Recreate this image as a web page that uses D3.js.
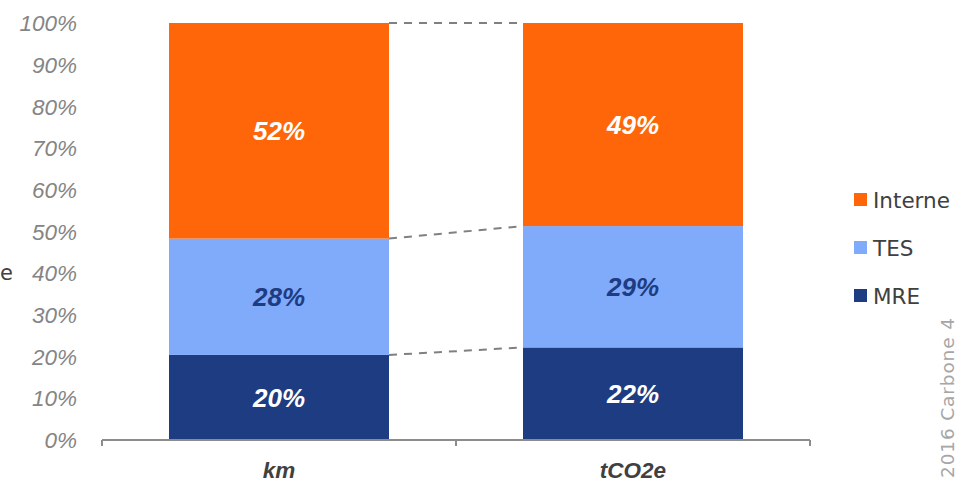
<!DOCTYPE html>
<html><head><meta charset="utf-8">
<script src="https://cdn.jsdelivr.net/npm/d3@7"></script>
<style>body{margin:0;background:#fff}svg{display:block}</style>
</head><body>
<svg id="c" width="957" height="482"></svg>
<script>
const categories = ["km", "tCO2e"];
const seriesNames = ["MRE", "TES", "Interne"];
const MRE = [20.4, 22.2];
const TES = [27.9, 29.1];
const Interne = [51.7, 48.7];
const yTicks = [0,10,20,30,40,50,60,70,80,90,100];
const legendItems = ["Interne","TES","MRE"];
const colors = {MRE:"#1D3C82", TES:"#80AAFA", Interne:"#FF6609"};
const labelColors = {MRE:"#ffffff", TES:"#1D3C82", Interne:"#ffffff"};

const svg = d3.select("#c");
const x = d3.scaleBand().domain(categories).range([102, 810]).paddingInner(0).paddingOuter(0);
const y = d3.scaleLinear().domain([0,100]).range([440, 23]);
const barW = 220;

const data = categories.map((c,i)=>({cat:c, MRE:MRE[i], TES:TES[i], Interne:Interne[i]}));
const stack = d3.stack().keys(seriesNames)(data);

// connectors
const g = svg.append("g");
stack.forEach(layer=>{
  const a = layer[0], b = layer[1];
  g.append("line")
    .attr("x1", x(categories[0]) + x.bandwidth()/2 + barW/2)
    .attr("x2", x(categories[1]) + x.bandwidth()/2 - barW/2)
    .attr("y1", y(a[1])).attr("y2", y(b[1]))
    .attr("stroke","#808080").attr("stroke-width",2).attr("stroke-dasharray","8,7");
});

// bars
stack.forEach(layer=>{
  const key = layer.key;
  svg.append("g").selectAll("rect").data(layer).join("rect")
    .attr("x", d=> x(d.data.cat) + x.bandwidth()/2 - barW/2)
    .attr("width", barW)
    .attr("y", d=> y(d[1]))
    .attr("height", d=> y(d[0]) - y(d[1]))
    .attr("fill", colors[key]);
  svg.append("g").selectAll("text").data(layer).join("text")
    .attr("x", d=> x(d.data.cat) + x.bandwidth()/2)
    .attr("y", d=> (y(d[0]) + y(d[1]))/2)
    .attr("dy","0.36em")
    .attr("text-anchor","middle")
    .attr("font-family","Liberation Sans, Arial, sans-serif")
    .attr("font-weight","bold").attr("font-style","italic")
    .attr("font-size",26)
    .attr("fill", labelColors[key])
    .text(d=> Math.round(d[1]-d[0]) + "%");
});

// axis line and ticks
const ax = svg.append("g").attr("stroke","#8c8c8c").attr("stroke-width",2);
ax.append("line").attr("x1",102).attr("x2",810).attr("y1",440).attr("y2",440);
const bounds = [x(categories[0]), x(categories[1]), x(categories[1]) + x.bandwidth()];
bounds.forEach(b=> ax.append("line").attr("x1",b).attr("x2",b).attr("y1",440).attr("y2",446));

// y tick labels
svg.append("g").selectAll("text").data(yTicks).join("text")
  .attr("x",77).attr("y",d=>y(d)).attr("dy","0.36em")
  .attr("text-anchor","end")
  .attr("font-family","Liberation Sans, Arial, sans-serif")
  .attr("font-style","italic").attr("font-size",22.5).attr("fill","#858585")
  .text(d=> d + "%");

// category labels
svg.append("g").selectAll("text").data(categories).join("text")
  .attr("x",d=> x(d)+x.bandwidth()/2).attr("y",470).attr("dy","0.36em")
  .attr("text-anchor","middle")
  .attr("font-family","Liberation Sans, Arial, sans-serif")
  .attr("font-weight","bold").attr("font-style","italic").attr("font-size",22.5).attr("fill","#404040")
  .text(d=>d);

// cut y-axis title
svg.append("text").attr("x",13).attr("y",272).attr("dy","0.36em").attr("text-anchor","end")
  .attr("font-family","DejaVu Sans, sans-serif").attr("font-size",21).attr("fill","#404040").text("e");

// legend
const lg = svg.append("g").selectAll("g").data(legendItems).join("g")
  .attr("transform",(d,i)=>`translate(854,${200 + i*48})`);
lg.append("rect").attr("x",0).attr("y",-7).attr("width",13).attr("height",13).attr("fill",d=>colors[d]);
lg.append("text").attr("x",19).attr("y",0).attr("dy","0.36em")
  .attr("font-family","DejaVu Sans, sans-serif").attr("font-size",21.5).attr("fill","#404040")
  .text(d=>d);

// watermark
svg.append("text").attr("transform","translate(954,478) rotate(-90)")
  .attr("font-family","DejaVu Sans, sans-serif").attr("font-size",18.5).attr("fill","#a6a6a6")
  .attr("textLength",160).attr("lengthAdjust","spacing")
  .text("2016 Carbone 4");
</script>
</body></html>
